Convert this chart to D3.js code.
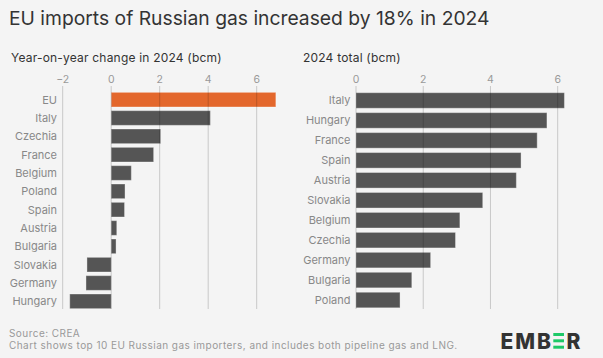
<!DOCTYPE html>
<html><head><meta charset="utf-8">
<script src="https://cdn.jsdelivr.net/npm/d3@7"></script>
<style>body{margin:0;background:#f4f4f4;}svg{display:block;}</style>
</head><body>
<script>
const changeCountries = ["EU","Italy","Czechia","France","Belgium","Poland","Spain","Austria","Bulgaria","Slovakia","Germany","Hungary"];
const changeValues = [6.79,4.09,2.04,1.75,0.83,0.57,0.55,0.23,0.2,-1.0,-1.04,-1.71];
const totalCountries = ["Italy","Hungary","France","Spain","Austria","Slovakia","Belgium","Czechia","Germany","Bulgaria","Poland"];
const totalValues = [6.2,5.68,5.39,4.91,4.77,3.77,3.09,2.96,2.22,1.66,1.31];
const changeTicks = [-2,0,2,4,6];
const totalTicks = [0,2,4,6];

const W=603,H=358, font="Inter, 'Noto Sans', sans-serif";
const svg=d3.select("body").append("svg").attr("width",W).attr("height",H).style("background","#f4f4f4");

svg.append("text").attr("x",9).attr("y",25).attr("font-family",font).attr("font-size",19.3).attr("fill","#333").text("EU imports of Russian gas increased by 18% in 2024");
svg.append("text").attr("x",11).attr("y",62).attr("font-family",font).attr("font-size",12).attr("letter-spacing",0.2).attr("fill","#333").text("Year-on-year change in 2024 (bcm)");
svg.append("text").attr("x",303).attr("y",62).attr("font-family",font).attr("font-size",12).attr("letter-spacing",0.2).attr("fill","#333").text("2024 total (bcm)");

function panel(cats, vals, ticks, x, yTop, yBot, labelX, pad, colorFn){
  const y=d3.scaleBand().domain(cats).range([yTop,yBot]).paddingInner(pad).paddingOuter(pad/2);
  const g=svg.append("g");
  g.selectAll("text.tk").data(ticks).join("text").attr("x",d=>x(d)).attr("y",83)
    .attr("text-anchor","middle").attr("font-family",font).attr("font-size",10.5).attr("fill","#999")
    .text(d=>d<0?"\u2212"+Math.abs(d):d);
  g.selectAll("rect").data(cats).join("rect")
    .attr("x",(d,i)=>x(Math.min(0,vals[i]))).attr("y",d=>y(d))
    .attr("width",(d,i)=>Math.abs(x(vals[i])-x(0))).attr("height",y.bandwidth())
    .attr("fill",(d,i)=>colorFn(d)).attr("stroke","rgba(255,255,255,0.35)").attr("stroke-width",1);
  g.selectAll("line.gr").data(ticks).join("line").attr("x1",d=>x(d)).attr("x2",d=>x(d))
    .attr("y1",86).attr("y2",309).attr("stroke","#000").attr("stroke-opacity",0.18).attr("stroke-width",1);
  g.selectAll("text.cat").data(cats).join("text").attr("x",labelX).attr("y",d=>y(d)+y.bandwidth()/2)
    .attr("dy","0.35em").attr("text-anchor","end").attr("font-family",font).attr("font-size",11).attr("fill","#888")
    .text(d=>d);
}

const xL=d3.scaleLinear().domain([-2,6]).range([62.7,256.7]);
panel(changeCountries, changeValues, changeTicks, xL, 90.5, 310.5, 57, 0.2, d=>d==="EU"?"#e3672c":"#555555");
const xR=d3.scaleLinear().domain([0,6]).range([356,557.7]);
panel(totalCountries, totalValues, totalTicks, xR, 90.5, 310, 350.5, 0.22, d=>"#555555");

svg.append("text").attr("x",9).attr("y",337).attr("font-family",font).attr("font-size",10).attr("letter-spacing",0.45).attr("fill","#999").text("Source: CREA");
svg.append("text").attr("x",9).attr("y",349).attr("font-family",font).attr("font-size",10).attr("letter-spacing",0.45).attr("fill","#999").text("Chart shows top 10 EU Russian gas importers, and includes both pipeline gas and LNG.");

// EMBER logo
const logo=svg.append("g").attr("font-family",font).attr("font-weight",800).attr("font-size",21).attr("fill","#333");
logo.append("text").attr("x",500.5).attr("y",348.7).attr("textLength",50.5).attr("lengthAdjust","spacing").text("EMB");
logo.append("text").attr("x",566.5).attr("y",348.7).text("R");
[333,339.3,345.7].forEach(yy=>logo.append("rect").attr("x",553.3).attr("y",yy).attr("width",10.7).attr("height",3).attr("fill","#1ec968"));
</script>
</body></html>
